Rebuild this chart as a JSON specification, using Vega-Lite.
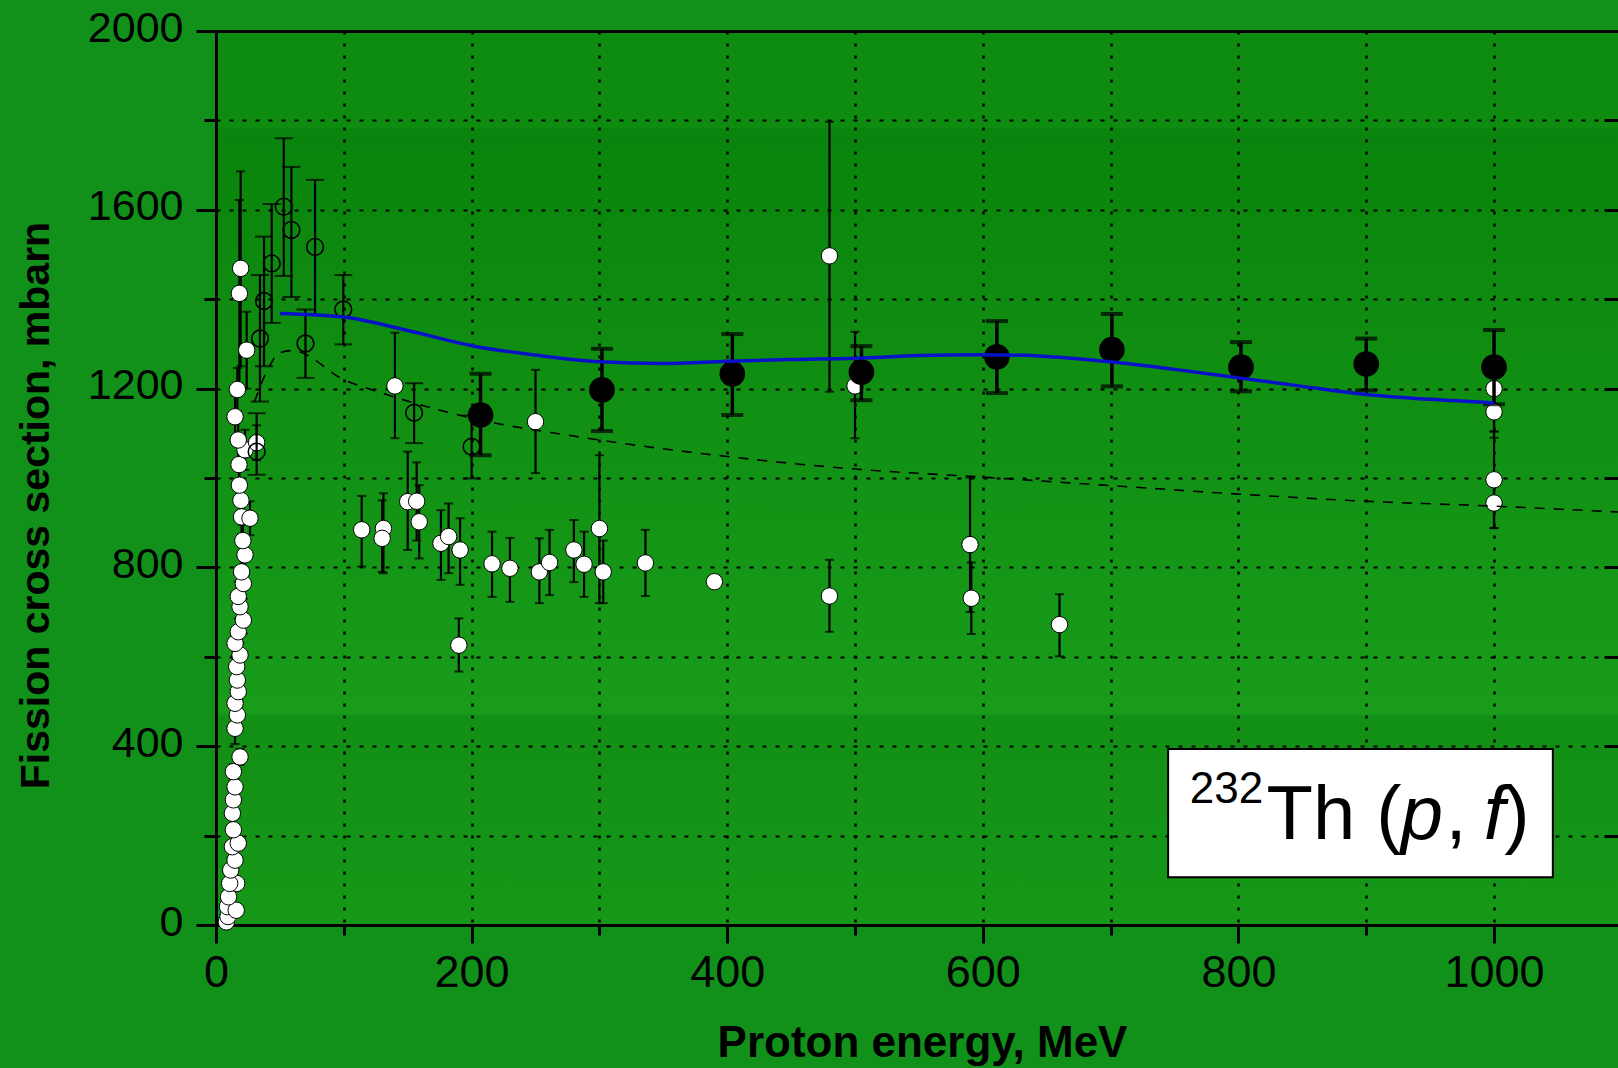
{
  "$schema": "https://vega.github.io/schema/vega-lite/v6.json",
  "width": 1402,
  "height": 894,
  "autosize": {"type": "none"},
  "padding": {"left": 216, "top": 31, "right": 0, "bottom": 143},
  "config": {
    "background": "#12911a",
    "view": {
      "stroke": null,
      "fill": {
        "gradient": "linear", "x1": 0, "y1": 0, "x2": 0, "y2": 1,
        "stops": [
          {"offset": 0, "color": "#0d8c0f"},
          {"offset": 0.108, "color": "#0d8c0f"},
          {"offset": 0.11, "color": "#0a840c"},
          {"offset": 0.763, "color": "#189c1a"},
          {"offset": 0.767, "color": "#128f15"},
          {"offset": 1, "color": "#169818"}
        ]
      }
    },
    "font": "Liberation Sans",
    "axis": {"domainColor": "black", "tickColor": "black", "labelColor": "black", "titleColor": "black", "gridColor": "black"}
  },
  "datasets": {
    "white": [
      {"E": 8.1, "sigma": 7, "lo": 2, "hi": 12},
      {"E": 9.4, "sigma": 19, "lo": 12, "hi": 26},
      {"E": 9.0, "sigma": 41, "lo": 33, "hi": 49},
      {"E": 15.8, "sigma": 33, "lo": 26, "hi": 40},
      {"E": 9.8, "sigma": 63, "lo": 54, "hi": 72},
      {"E": 16.2, "sigma": 93, "lo": 84, "hi": 102},
      {"E": 10.7, "sigma": 93, "lo": 84, "hi": 102},
      {"E": 11.5, "sigma": 123, "lo": 113, "hi": 133},
      {"E": 14.9, "sigma": 145, "lo": 134, "hi": 156},
      {"E": 12.8, "sigma": 175, "lo": 163, "hi": 187},
      {"E": 17.4, "sigma": 183, "lo": 171, "hi": 195},
      {"E": 13.6, "sigma": 213, "lo": 200, "hi": 226},
      {"E": 12.8, "sigma": 250, "lo": 236, "hi": 264},
      {"E": 13.6, "sigma": 280, "lo": 265, "hi": 295},
      {"E": 14.9, "sigma": 309, "lo": 293, "hi": 325},
      {"E": 13.6, "sigma": 343, "lo": 326, "hi": 360},
      {"E": 18.8, "sigma": 376, "lo": 358, "hi": 394},
      {"E": 14.9, "sigma": 440, "lo": 405, "hi": 475},
      {"E": 16.7, "sigma": 470, "lo": 448, "hi": 492},
      {"E": 14.9, "sigma": 496, "lo": 473, "hi": 519},
      {"E": 17.4, "sigma": 522, "lo": 498, "hi": 546},
      {"E": 16.7, "sigma": 548, "lo": 523, "hi": 573},
      {"E": 16.2, "sigma": 578, "lo": 552, "hi": 604},
      {"E": 18.8, "sigma": 604, "lo": 577, "hi": 631},
      {"E": 14.9, "sigma": 630, "lo": 602, "hi": 658},
      {"E": 17.4, "sigma": 656, "lo": 627, "hi": 685},
      {"E": 21.4, "sigma": 682, "lo": 652, "hi": 712},
      {"E": 18.8, "sigma": 712, "lo": 681, "hi": 743},
      {"E": 17.4, "sigma": 735, "lo": 702, "hi": 768},
      {"E": 21.4, "sigma": 764, "lo": 730, "hi": 798},
      {"E": 20.0, "sigma": 790, "lo": 755, "hi": 825},
      {"E": 22.7, "sigma": 828, "lo": 792, "hi": 864},
      {"E": 21.0, "sigma": 860, "lo": 825, "hi": 895},
      {"E": 20.0, "sigma": 913, "lo": 875, "hi": 951},
      {"E": 26.6, "sigma": 910, "lo": 872, "hi": 948},
      {"E": 19.5, "sigma": 950, "lo": 912, "hi": 988},
      {"E": 18.3, "sigma": 984, "lo": 944, "hi": 1024},
      {"E": 18.0, "sigma": 1030, "lo": 990, "hi": 1070},
      {"E": 22.7, "sigma": 1063, "lo": 1018, "hi": 1108},
      {"E": 17.4, "sigma": 1085, "lo": 1040, "hi": 1130},
      {"E": 31.8, "sigma": 1079, "lo": 1040, "hi": 1118},
      {"E": 14.9, "sigma": 1137, "lo": 1090, "hi": 1184},
      {"E": 16.7, "sigma": 1198, "lo": 1150, "hi": 1246},
      {"E": 24.0, "sigma": 1286, "lo": 1200, "hi": 1372},
      {"E": 18.3, "sigma": 1413, "lo": 1205, "hi": 1622},
      {"E": 19.3, "sigma": 1469, "lo": 1250, "hi": 1686},
      {"E": 114, "sigma": 884, "lo": 802, "hi": 960},
      {"E": 131, "sigma": 887, "lo": 787, "hi": 966},
      {"E": 130, "sigma": 865, "lo": 790, "hi": 950},
      {"E": 140, "sigma": 1206, "lo": 1089, "hi": 1325},
      {"E": 150, "sigma": 947, "lo": 839, "hi": 1059},
      {"E": 157, "sigma": 948, "lo": 860, "hi": 1035},
      {"E": 159, "sigma": 902, "lo": 820, "hi": 984},
      {"E": 176, "sigma": 854, "lo": 772, "hi": 928},
      {"E": 182, "sigma": 869, "lo": 787, "hi": 943},
      {"E": 190, "sigma": 626, "lo": 567, "hi": 686},
      {"E": 191, "sigma": 839, "lo": 761, "hi": 910},
      {"E": 216, "sigma": 808, "lo": 734, "hi": 880},
      {"E": 230, "sigma": 798, "lo": 723, "hi": 866},
      {"E": 250, "sigma": 1126, "lo": 1011, "hi": 1242},
      {"E": 253, "sigma": 790, "lo": 720, "hi": 865},
      {"E": 261, "sigma": 811, "lo": 738, "hi": 884},
      {"E": 280, "sigma": 839, "lo": 767, "hi": 906},
      {"E": 288, "sigma": 807, "lo": 734, "hi": 880},
      {"E": 300, "sigma": 887, "lo": 720, "hi": 1051},
      {"E": 303, "sigma": 790, "lo": 720, "hi": 860},
      {"E": 336, "sigma": 810, "lo": 736, "hi": 884},
      {"E": 390, "sigma": 768, "lo": 760, "hi": 776},
      {"E": 480, "sigma": 1497, "lo": 1193, "hi": 1797},
      {"E": 480, "sigma": 736, "lo": 656, "hi": 817},
      {"E": 500, "sigma": 1206, "lo": 1089, "hi": 1327},
      {"E": 590, "sigma": 851, "lo": 700, "hi": 1001},
      {"E": 591, "sigma": 731, "lo": 651, "hi": 811},
      {"E": 660, "sigma": 672, "lo": 601, "hi": 740},
      {"E": 1000, "sigma": 1200, "lo": 1090, "hi": 1209},
      {"E": 1000, "sigma": 1148, "lo": 1104, "hi": 1164},
      {"E": 1000, "sigma": 996, "lo": 888, "hi": 1104},
      {"E": 1000, "sigma": 944, "lo": 888, "hi": 1000}
    ],
    "open": [
      {"E": 31.8, "sigma": 1059, "lo": 1007, "hi": 1145},
      {"E": 34.4, "sigma": 1312, "lo": 1171, "hi": 1454},
      {"E": 37.6, "sigma": 1396, "lo": 1250, "hi": 1540},
      {"E": 43.6, "sigma": 1480, "lo": 1347, "hi": 1613},
      {"E": 53, "sigma": 1607, "lo": 1452, "hi": 1760},
      {"E": 59, "sigma": 1555, "lo": 1405, "hi": 1696},
      {"E": 70, "sigma": 1301, "lo": 1224, "hi": 1377},
      {"E": 77.5, "sigma": 1517, "lo": 1365, "hi": 1667},
      {"E": 99.6, "sigma": 1377, "lo": 1299, "hi": 1454},
      {"E": 155, "sigma": 1146, "lo": 1078, "hi": 1212},
      {"E": 200, "sigma": 1070, "lo": 999, "hi": 1140}
    ],
    "black": [
      {"E": 207, "sigma": 1141, "lo": 1051, "hi": 1233},
      {"E": 302, "sigma": 1197, "lo": 1105, "hi": 1289},
      {"E": 404, "sigma": 1233, "lo": 1141, "hi": 1322},
      {"E": 505, "sigma": 1237, "lo": 1174, "hi": 1295},
      {"E": 611, "sigma": 1271, "lo": 1190, "hi": 1351},
      {"E": 701, "sigma": 1287, "lo": 1205, "hi": 1367},
      {"E": 802, "sigma": 1248, "lo": 1194, "hi": 1304},
      {"E": 900, "sigma": 1255, "lo": 1196, "hi": 1312},
      {"E": 1000, "sigma": 1248, "lo": 1165, "hi": 1331}
    ],
    "calcBlue": [
      {"E": 50, "sigma": 1368}, {"E": 100, "sigma": 1360}, {"E": 150, "sigma": 1330},
      {"E": 200, "sigma": 1296}, {"E": 250, "sigma": 1275}, {"E": 300, "sigma": 1260},
      {"E": 350, "sigma": 1256}, {"E": 400, "sigma": 1261}, {"E": 450, "sigma": 1265},
      {"E": 500, "sigma": 1268}, {"E": 550, "sigma": 1274}, {"E": 600, "sigma": 1276},
      {"E": 650, "sigma": 1272}, {"E": 700, "sigma": 1260}, {"E": 750, "sigma": 1243},
      {"E": 800, "sigma": 1224}, {"E": 850, "sigma": 1205}, {"E": 900, "sigma": 1187},
      {"E": 950, "sigma": 1176}, {"E": 1000, "sigma": 1168}
    ],
    "calcDashed": [
      {"E": 30, "sigma": 1170}, {"E": 40, "sigma": 1240}, {"E": 50, "sigma": 1280},
      {"E": 60, "sigma": 1285}, {"E": 100, "sigma": 1220}, {"E": 130, "sigma": 1190},
      {"E": 180, "sigma": 1148}, {"E": 220, "sigma": 1122}, {"E": 275, "sigma": 1096},
      {"E": 300, "sigma": 1085}, {"E": 400, "sigma": 1048}, {"E": 500, "sigma": 1020},
      {"E": 600, "sigma": 1002}, {"E": 700, "sigma": 983}, {"E": 800, "sigma": 964},
      {"E": 900, "sigma": 948}, {"E": 1000, "sigma": 937}, {"E": 1097, "sigma": 924}
    ]
  },
  "resolve": {"axis": {"x": "independent", "y": "independent"}},
  "layer": [
    {
      "data": {"name": "calcDashed"},
      "mark": {"type": "line", "color": "black", "strokeWidth": 1.5, "opacity": 0},
      "encoding": {
        "x": {
          "field": "E", "type": "quantitative",
          "scale": {"domain": [0, 1097], "nice": false, "zero": false},
          "axis": {
            "orient": "bottom",
            "values": [0, 100, 200, 300, 400, 500, 600, 700, 800, 900, 1000],
            "format": "d",
            "grid": true, "gridDash": [3, 9], "gridWidth": 2.5,
            "domainWidth": 3, "tickWidth": 3,
            "tickSize": {"condition": {"test": "datum.value % 200 === 0", "value": 18}, "value": 10},
            "labelExpr": "datum.value % 200 === 0 ? datum.label : ''",
            "labelFontSize": 45, "labelPadding": 7, "labelFlush": false, "labelOverlap": false,
            "title": "Proton energy, MeV", "titleFontSize": 44, "titleFontWeight": "bold",
            "titleX": 706, "titleY": 131, "titleBaseline": "alphabetic", "titleAlign": "center"
          }
        },
        "y": {
          "field": "sigma", "type": "quantitative",
          "scale": {"domain": [0, 2000], "nice": false, "zero": false},
          "axis": {
            "orient": "left",
            "values": [0, 200, 400, 600, 800, 1000, 1200, 1400, 1600, 1800, 2000],
            "format": "d",
            "grid": true, "gridDash": [4, 9], "gridWidth": 2,
            "domainWidth": 3, "tickWidth": 3,
            "tickSize": {"condition": {"test": "datum.value % 400 === 0", "value": 20}, "value": 12},
            "labelExpr": "datum.value % 400 === 0 ? datum.label : ''",
            "labelFontSize": 43, "labelPadding": 13, "labelOffset": -3, "labelOverlap": false, "labelFlush": false,
            "title": "Fission cross section, mbarn", "titleFontSize": 41, "titleFontWeight": "bold",
            "titleAngle": 270, "titleX": -168, "titleY": 474, "titleBaseline": "alphabetic", "titleAlign": "center"
          }
        }
      }
    },
    {
      "data": {"name": "white"},
      "mark": {"type": "errorbar", "ticks": {"size": 9, "thickness": 2, "color": "black"}, "rule": {"strokeWidth": 2.2, "color": "black"}},
      "encoding": {
        "x": {"field": "E", "type": "quantitative", "axis": null},
        "y": {"field": "lo", "type": "quantitative", "axis": null},
        "y2": {"field": "hi"}
      }
    },
    {
      "data": {"name": "white"},
      "mark": {"type": "point", "shape": "circle", "filled": true, "fill": "white", "stroke": "black", "strokeWidth": 1, "size": 270, "opacity": 1},
      "encoding": {
        "x": {"field": "E", "type": "quantitative", "axis": null},
        "y": {"field": "sigma", "type": "quantitative", "axis": null}
      }
    },
    {
      "data": {"name": "open"},
      "mark": {"type": "errorbar", "ticks": {"size": 18, "thickness": 2, "color": "black"}, "rule": {"strokeWidth": 2.2, "color": "black"}},
      "encoding": {
        "x": {"field": "E", "type": "quantitative", "axis": null},
        "y": {"field": "lo", "type": "quantitative", "axis": null},
        "y2": {"field": "hi"}
      }
    },
    {
      "data": {"name": "open"},
      "mark": {"type": "point", "shape": "circle", "filled": false, "stroke": "black", "strokeWidth": 1.6, "size": 280, "opacity": 1},
      "encoding": {
        "x": {"field": "E", "type": "quantitative", "axis": null},
        "y": {"field": "sigma", "type": "quantitative", "axis": null}
      }
    },
    {
      "data": {"name": "black"},
      "mark": {"type": "errorbar", "ticks": {"size": 22, "thickness": 4, "color": "black"}, "rule": {"strokeWidth": 3.5, "color": "black"}},
      "encoding": {
        "x": {"field": "E", "type": "quantitative", "axis": null},
        "y": {"field": "lo", "type": "quantitative", "axis": null},
        "y2": {"field": "hi"}
      }
    },
    {
      "data": {"name": "black"},
      "mark": {"type": "point", "shape": "circle", "filled": true, "fill": "black", "size": 660, "opacity": 1},
      "encoding": {
        "x": {"field": "E", "type": "quantitative", "axis": null},
        "y": {"field": "sigma", "type": "quantitative", "axis": null}
      }
    },
    {
      "data": {"name": "calcDashed"},
      "mark": {"type": "line", "color": "black", "strokeWidth": 1.6, "strokeDash": [10, 9], "interpolate": "monotone"},
      "encoding": {
        "x": {"field": "E", "type": "quantitative", "axis": null},
        "y": {"field": "sigma", "type": "quantitative", "axis": null}
      }
    },
    {
      "data": {"name": "calcBlue"},
      "mark": {"type": "line", "color": "#0a12c8", "strokeWidth": 3.5, "interpolate": "monotone"},
      "encoding": {
        "x": {
          "field": "E", "type": "quantitative",
          "axis": {"orient": "top", "domain": true, "domainWidth": 3, "ticks": false, "labels": false, "grid": false, "title": null}
        },
        "y": {
          "field": "sigma", "type": "quantitative",
          "axis": {
            "orient": "right", "domain": false, "labels": false, "grid": false, "title": null,
            "values": [0, 200, 400, 600, 800, 1000, 1200, 1400, 1600, 1800, 2000],
            "ticks": true, "tickSize": -14, "tickWidth": 3
          }
        }
      }
    },
    {
      "data": {"values": [{}]},
      "mark": {"type": "rect", "fill": "white", "stroke": "black", "strokeWidth": 2},
      "encoding": {
        "x": {"datum": 745, "type": "quantitative", "axis": null},
        "x2": {"datum": 1046},
        "y": {"datum": 394, "type": "quantitative", "axis": null},
        "y2": {"datum": 107}
      }
    },
    {
      "data": {"values": [{}]},
      "mark": {"type": "text", "text": "232", "fontSize": 44, "align": "left", "baseline": "alphabetic", "color": "black"},
      "encoding": {
        "x": {"datum": 762, "type": "quantitative", "axis": null},
        "y": {"datum": 272, "type": "quantitative", "axis": null}
      }
    },
    {
      "data": {"values": [{}]},
      "mark": {"type": "text", "text": "Th (", "fontSize": 76, "align": "left", "baseline": "alphabetic", "color": "black"},
      "encoding": {
        "x": {"datum": 822, "type": "quantitative", "axis": null},
        "y": {"datum": 192, "type": "quantitative", "axis": null}
      }
    },
    {
      "data": {"values": [{}]},
      "mark": {"type": "text", "text": "p", "fontSize": 76, "fontStyle": "italic", "align": "left", "baseline": "alphabetic", "color": "black"},
      "encoding": {
        "x": {"datum": 927, "type": "quantitative", "axis": null},
        "y": {"datum": 192, "type": "quantitative", "axis": null}
      }
    },
    {
      "data": {"values": [{}]},
      "mark": {"type": "text", "text": ",", "fontSize": 76, "align": "left", "baseline": "alphabetic", "color": "black"},
      "encoding": {
        "x": {"datum": 962, "type": "quantitative", "axis": null},
        "y": {"datum": 192, "type": "quantitative", "axis": null}
      }
    },
    {
      "data": {"values": [{}]},
      "mark": {"type": "text", "text": "f", "fontSize": 76, "fontStyle": "italic", "align": "left", "baseline": "alphabetic", "color": "black"},
      "encoding": {
        "x": {"datum": 992, "type": "quantitative", "axis": null},
        "y": {"datum": 192, "type": "quantitative", "axis": null}
      }
    },
    {
      "data": {"values": [{}]},
      "mark": {"type": "text", "text": ")", "fontSize": 76, "align": "left", "baseline": "alphabetic", "color": "black"},
      "encoding": {
        "x": {"datum": 1008, "type": "quantitative", "axis": null},
        "y": {"datum": 192, "type": "quantitative", "axis": null}
      }
    }
  ]
}
